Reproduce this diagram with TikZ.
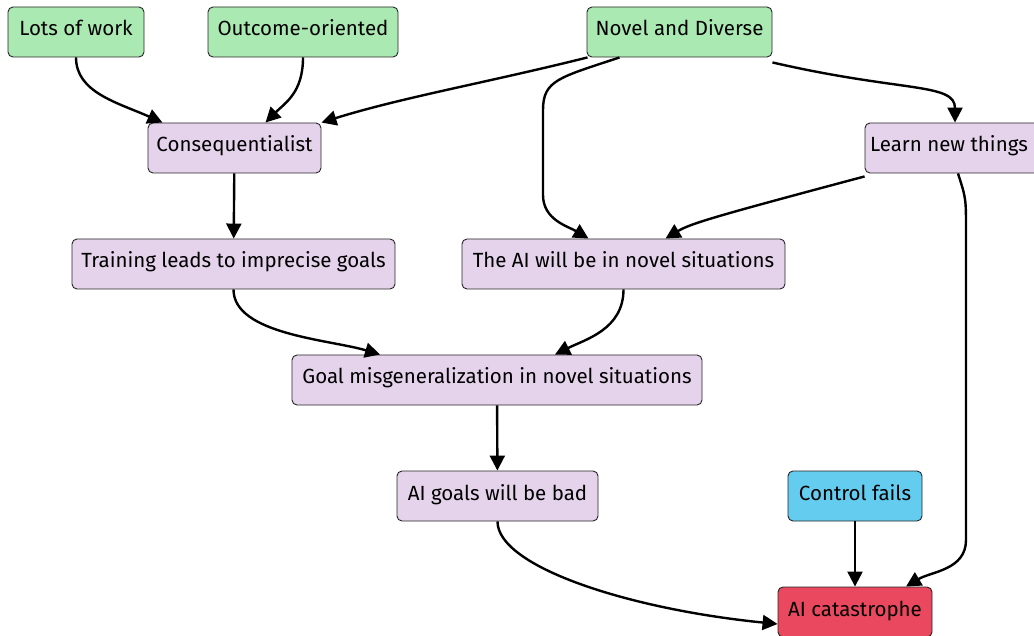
\documentclass[tikz,border=0pt]{standalone}
\usepackage{fontspec}
\setmainfont{Fira Sans}
\usetikzlibrary{arrows.meta}
\definecolor{goodgreen}{RGB}{171,233,179}
\definecolor{stepviolet}{RGB}{229,211,236}
\definecolor{ctrlblue}{RGB}{100,204,238}
\definecolor{doomred}{RGB}{234,72,94}
\tikzset{box/.style={draw=black!85, line width=0.9pt, rounded corners=5pt, inner sep=0pt,
    font=\fontsize{20.5}{24}\selectfont, text height=14pt, text depth=6pt, minimum height=50pt},
premise/.style={box, fill=goodgreen},
claim/.style={box, fill=stepviolet},
%control and the end node
ctrl/.style={box, fill=ctrlblue},
doom/.style={box, fill=doomred},
link/.style={line width=2.4pt, -{Triangle[length=15pt,width=15pt]}}}

\begin{document}
\begin{tikzpicture}[x=1pt,y=-1pt]

    \useasboundingbox (0,0) rectangle (1034,636);

    \node[premise, minimum width=136pt] (work) at (76,32) {Lots of work};
    \node[premise, minimum width=190pt] (outcome) at (303,32) {Outcome-oriented};
    \node[premise, minimum width=185pt] (novel) at (679.5,32) {Novel and Diverse};

    \node[claim, minimum width=173pt] (conseq) at (234.5,148) {Consequentialist};
    \node[claim, minimum width=180pt] (learn) at (955,148) {\hspace*{-12pt}Learn new things};

    \node[claim, minimum width=323pt] (imprecise) at (233.5,264) {Training leads to imprecise goals};
    \node[claim, minimum width=323pt] (situations) at (623.5,264) {The AI will be in novel situations};

    \node[claim, minimum width=410pt] (misgen) at (497,380) {Goal misgeneralization in novel situations};

    \node[claim, minimum width=201pt] (badgoals) at (497.5,496) {AI goals will be bad};
    \node[ctrl, minimum width=134pt] (control) at (855,496) {Control fails};

    \node[doom, minimum width=154pt] (catastrophe) at (855,612) {AI catastrophe};

    \draw[link] (work.south) .. controls +(0,35) and +(-45,-20) .. ([xshift=-72pt]conseq.north);
    \draw[link] (outcome.south) .. controls +(0,35) and +(20,-20) .. ([xshift=31pt]conseq.north);
    \draw[link] ([xshift=-92pt]novel.south) .. controls +(-100,25) and +(80,-25) .. (conseq.north east);
    \draw[link] ([xshift=-60pt]novel.south) .. controls +(-60,20) and +(0,-30) .. (543,110)
        -- (543,195) .. controls +(0,25) and +(-20,-12) .. ([xshift=-35pt]situations.north);
    \draw[link] ([yshift=-5pt]novel.south east) .. controls +(130,30) and +(0,-40) .. ([xshift=0pt]learn.north);

    \draw[link] ([yshift=-3pt]learn.south west) .. controls +(-150,40) and +(25,-15) .. ([xshift=42pt]situations.north);
    \draw[link] ([xshift=3pt]learn.south) .. controls +(8,25) .. (966,230)
        -- (966,540) .. controls +(0,30) and +(25,-15) .. ([xshift=51pt]catastrophe.north);

    \draw[link] (conseq) -- (imprecise);
    \draw[link] (imprecise.south) .. controls +(0,45) and +(-50,-15) .. ([xshift=-117pt]misgen.north);
    \draw[link] (situations.south) .. controls +(0,40) and +(30,-15) .. ([xshift=58pt]misgen.north);
    \draw[link] (misgen) -- (badgoals);

    \draw[link] (badgoals.south) .. controls +(0,45) and +(-150,-15) .. ([yshift=-12pt]catastrophe.west);
    \draw[link] (control) -- (catastrophe);

\end{tikzpicture}
\end{document}
